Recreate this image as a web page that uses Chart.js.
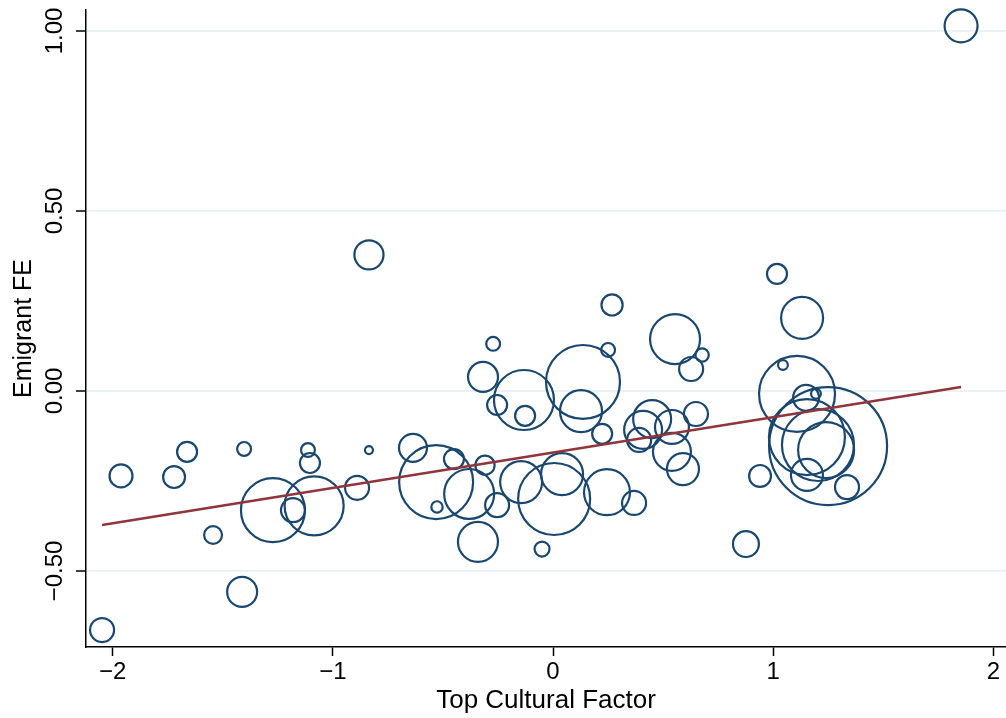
<!DOCTYPE html>
<html>
<head>
<meta charset="utf-8">
<title>Emigrant FE vs Top Cultural Factor</title>
<script src="https://cdn.jsdelivr.net/npm/chart.js@4.4.1/dist/chart.umd.min.js"></script>
<style>
    body { margin: 0; background: #fff; }
    #wrap { width: 1006px; height: 718px; }
</style>
</head>
<body>
<div id="wrap"><canvas id="myChart" width="1006" height="718"></canvas></div>
<script>

// values
const factorX = [
    -2.048, -1.962, -1.721, -1.662, -1.403, -1.544, -1.412, -1.272, -1.181, -1.085,
    -1.113, -1.104, -0.890, -0.836, -0.836, -0.636, -0.531, -0.450, -0.527, -0.381,
    -0.309, -0.254, -0.341, -0.145, 0.005, 0.041, 0.245, 0.368, -0.050, -0.318,
    -0.272, -0.132, -0.254, -0.127, 0.136, 0.127, 0.250, 0.223, 0.268, 0.554,
    0.677, 0.627, 0.649, 0.450, 0.409, 0.391, 0.540, 0.540, 0.590, 0.876,
    0.940, 1.017, 1.131, 1.044, 1.108, 1.149, 1.194, 1.249, 1.153, 1.203,
    1.240, 1.153, 1.335, 1.853
];
const emigrantFE = [
    -0.664, -0.236, -0.239, -0.169, -0.161, -0.400, -0.558, -0.331, -0.331, -0.319,
    -0.164, -0.200, -0.269, -0.164, 0.378, -0.158, -0.253, -0.189, -0.322, -0.286,
    -0.206, -0.317, -0.419, -0.253, -0.300, -0.231, -0.281, -0.311, -0.439, 0.039,
    0.131, -0.025, -0.039, -0.069, 0.025, -0.056, 0.114, -0.119, 0.239, 0.144,
    0.100, 0.061, -0.064, -0.078, -0.108, -0.136, -0.100, -0.169, -0.217, -0.425,
    -0.236, 0.325, 0.203, 0.072, -0.008, -0.019, -0.008, -0.153, -0.128, -0.150,
    -0.164, -0.233, -0.267, 1.014
];
// bubble weights (area of each marker)
const weights = [
    36, 33, 30, 25, 12, 20, 56, 256, 36, 218,
    12, 25, 36, 4, 53, 49, 342, 25, 8, 156,
    23, 36, 100, 110, 324, 110, 132, 36, 14, 56,
    12, 225, 25, 25, 342, 110, 12, 25, 28, 156,
    11, 36, 36, 90, 90, 36, 72, 90, 64, 42,
    30, 25, 110, 6, 361, 42, 6, 870, 361, 324,
    196, 64, 36, 68
];

// fitted line end points
const fitX = [-2.048, 1.853];
const fitY = [-0.372, 0.011];

const xTicks = [-2, -1, 0, 1, 2];
const xTickLabels = ['\u22122', '\u22121', '0', '1', '2'];
const yTicks = [-0.5, 0, 0.5, 1];
const yTickLabels = ['\u22120.50', '0.00', '0.50', '1.00'];

const navy = '#1a476f';
const maroon = '#90353b';
const fontFamily = '"Liberation Sans", Arial, Helvetica, sans-serif';

const bubbles = factorX.map(function (x, i) {
    return { x: x, y: emigrantFE[i], r: 2 * Math.sqrt(weights[i]) };
});
const fitLine = fitX.map(function (x, i) {
    return { x: x, y: fitY[i] };
});

// y tick labels are rotated like in Stata
const yLabelPlugin = {
    id: 'yLabels',
    afterDraw: function (chart) {
        const ctx = chart.ctx;
        const yScale = chart.scales.y;
        ctx.save();
        ctx.fillStyle = '#000';
        ctx.font = '24px ' + fontFamily;
        ctx.textAlign = 'center';
        ctx.textBaseline = 'alphabetic';
        yTicks.forEach(function (v, i) {
            const py = yScale.getPixelForValue(v);
            ctx.save();
            ctx.translate(yScale.right - 24, py);
            ctx.rotate(-Math.PI / 2);
            ctx.fillText(yTickLabels[i], 0, 0);
            ctx.restore();
        });
        ctx.restore();
    }
};

const ctx = document.getElementById('myChart').getContext('2d');

const myChart = new Chart(ctx, {
    type: 'bubble',
    data: {
        datasets: [{
            type: 'line',
            label: 'Fitted values',
            data: fitLine,
            borderColor: maroon,
            borderWidth: 2.5,
            pointRadius: 0,
            fill: false
        }, {
            label: 'Emigrant FE',
            data: bubbles,
            backgroundColor: 'rgba(0,0,0,0)',
            borderColor: navy,
            borderWidth: 2.2,
            clip: false
        }]
    },
    options: {
        responsive: false,
        animation: false,
        devicePixelRatio: 1,
        layout: { autoPadding: false, padding: { top: 10, right: 0, bottom: 0, left: 0 } },
        plugins: {
            legend: { display: false },
            tooltip: { enabled: false }
        },
        scales: {
            x: {
                type: 'linear',
                position: 'bottom',
                min: -2.121,
                max: 2.057,
                afterBuildTicks: function (scale) {
                    scale.ticks = xTicks.map(function (v) { return { value: v }; });
                },
                afterFit: function (scale) { scale.height = 71; },
                grid: {
                    drawOnChartArea: false,
                    drawTicks: true,
                    tickLength: 9,
                    tickColor: '#000',
                    tickWidth: 1.5
                },
                border: { display: true, color: '#000', width: 1.5 },
                ticks: {
                    color: '#000',
                    font: { family: fontFamily, size: 24 },
                    padding: 2,
                    maxRotation: 0,
                    callback: function (value) {
                        const i = xTicks.indexOf(value);
                        return i >= 0 ? xTickLabels[i] : '';
                    }
                },
                title: {
                    display: true,
                    text: 'Top Cultural Factor',
                    color: '#000',
                    font: { family: fontFamily, size: 26 },
                    padding: { top: 0, bottom: 2 }
                }
            },
            y: {
                type: 'linear',
                position: 'left',
                min: -0.711,
                max: 1.058,
                afterBuildTicks: function (scale) {
                    scale.ticks = yTicks.map(function (v) { return { value: v }; });
                },
                afterFit: function (scale) { scale.width = 86; },
                grid: {
                    color: '#eaf2f3',
                    lineWidth: 2,
                    drawTicks: true,
                    tickLength: 10,
                    tickColor: '#000',
                    tickWidth: 1.5
                },
                border: { display: true, color: '#000', width: 1.5 },
                ticks: { display: false },
                title: {
                    display: true,
                    text: 'Emigrant FE',
                    color: '#000',
                    font: { family: fontFamily, size: 25 },
                    padding: { top: 9, bottom: 0 }
                }
            }
        }
    },
    plugins: [yLabelPlugin]
});
</script>
</body>
</html>
